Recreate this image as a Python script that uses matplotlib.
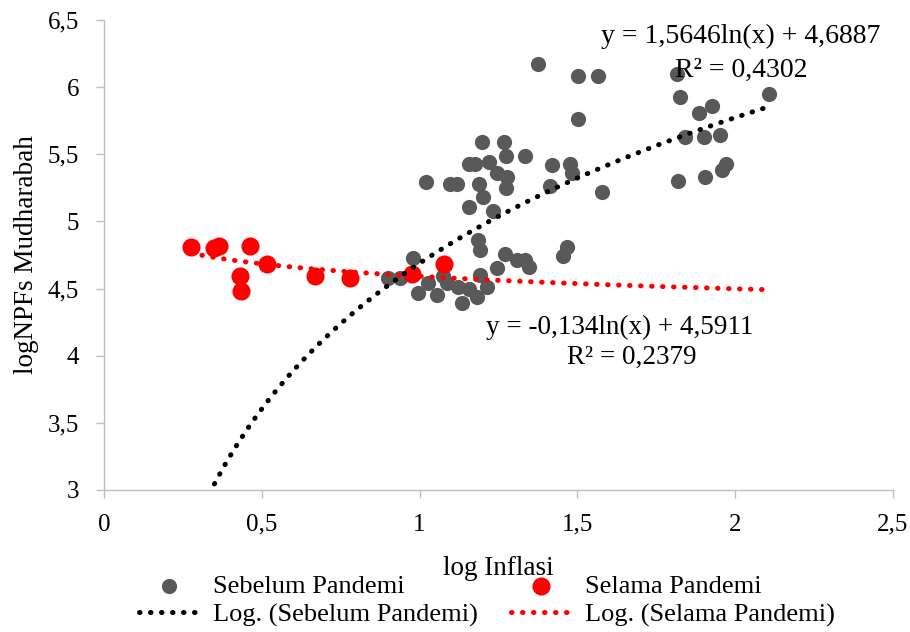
import numpy as np
import matplotlib.pyplot as plt
from matplotlib.ticker import FuncFormatter

plt.rcParams['font.family'] = ['Liberation Serif', 'DejaVu Serif']

# log inflation vs log NPF mudharabah, before the pandemic
sebelum_x = [1.375, 1.502, 1.564, 1.502, 1.197, 1.267, 1.274, 1.335, 1.155, 1.176,
             1.221, 1.244, 1.276, 1.274, 1.418, 1.477, 1.482, 1.020, 1.096, 1.117,
             1.189, 1.202, 1.413, 1.577, 1.158, 1.232, 1.186, 1.191, 1.466, 1.455,
             1.271, 1.308, 1.334, 1.346, 1.244, 0.980, 0.901, 0.938, 1.028, 0.996,
             1.054, 1.086, 1.123, 1.155, 1.191, 1.181, 1.133, 1.213, 1.075,
             1.817, 1.825, 2.108, 1.886, 1.925, 1.841, 1.901, 1.952, 1.971, 1.957,
             1.904, 1.820]
sebelum_y = [6.17, 6.08, 6.08, 5.76, 5.59, 5.59, 5.49, 5.49, 5.43, 5.43,
             5.445, 5.36, 5.33, 5.25, 5.42, 5.43, 5.36, 5.29, 5.28, 5.28,
             5.28, 5.18, 5.26, 5.22, 5.11, 5.08, 4.86, 4.79, 4.81, 4.74,
             4.76, 4.71, 4.71, 4.66, 4.65, 4.725, 4.58, 4.58, 4.54, 4.465,
             4.45, 4.54, 4.51, 4.50, 4.60, 4.44, 4.39, 4.51, 4.59,
             6.10, 5.93, 5.95, 5.81, 5.86, 5.63, 5.63, 5.64, 5.43, 5.38,
             5.33, 5.30]

# during the pandemic
selama_x = [0.276, 0.349, 0.364, 0.463, 0.431, 0.434, 0.516, 0.669, 0.779, 0.976, 1.077]
selama_y = [4.81, 4.80, 4.82, 4.82, 4.59, 4.48, 4.68, 4.59, 4.58, 4.61, 4.68]

# logarithmic trendline coefficients  y = a ln(x) + b, and R²
fit_sebelum = (1.5646, 4.6887, 0.4302)
fit_selama = (-0.134, 4.5911, 0.2379)

gray = '#595959'
red = '#FF0000'
axis_gray = '#BFBFBF'

fig = plt.figure(figsize=(9.1, 6.32), dpi=100)
ax = fig.add_axes([0.1143, 0.2247, 0.867, 0.7437])

sc1 = ax.scatter(sebelum_x, sebelum_y, s=120, color=gray, linewidths=0, zorder=2,
                 label='Sebelum Pandemi')
sc2 = ax.scatter(selama_x, selama_y, s=170, color=red, linewidths=0, zorder=3,
                 label='Selama Pandemi')

all_x = sebelum_x + selama_x
xs = np.linspace(min(all_x), max(all_x), 300)
dots = dict(linestyle=(0, (0.1, 2.1)), linewidth=3.6, dash_capstyle='round', zorder=4)
l1, = ax.plot(xs, fit_sebelum[0] * np.log(xs) + fit_sebelum[1], color='black',
              label='Log. (Sebelum Pandemi)', **dots)
l2, = ax.plot(xs, fit_selama[0] * np.log(xs) + fit_selama[1], color=red,
              label='Log. (Selama Pandemi)', **dots)

ax.set_xlim(0, 2.5)
ax.set_ylim(3, 6.5)
ax.set_xticks(np.arange(0, 2.51, 0.5))
ax.set_yticks(np.arange(3, 6.51, 0.5))
comma = FuncFormatter(lambda v, p: f'{v:g}'.replace('.', ','))
ax.xaxis.set_major_formatter(comma)
ax.yaxis.set_major_formatter(comma)
ax.tick_params(labelsize=18, color=axis_gray, length=6, width=1)
ax.tick_params(axis='y', pad=12)
ax.tick_params(axis='x', pad=11)

for side in ['top', 'right']:
    ax.spines[side].set_visible(False)
for side in ['left', 'bottom']:
    ax.spines[side].set_color(axis_gray)
    ax.spines[side].set_linewidth(1)

ax.set_xlabel('log Inflasi', fontsize=19.5, labelpad=15)
ax.set_ylabel('logNPFs Mudharabah', fontsize=19.5, labelpad=6)


def eq_text(fit):
    a, b, r2 = fit
    return f'y = {a:g}ln(x) + {b:g}'.replace('.', ','), f'R² = {r2:.4f}'.replace('.', ',')


eq1, r1 = eq_text(fit_sebelum)
eq2, r2 = eq_text(fit_selama)
ax.text(2.018, 6.375, eq1, fontsize=20, ha='center', va='center')
ax.text(2.018, 6.125, r1, fontsize=20, ha='center', va='center')
ax.text(1.635, 4.214, eq2, fontsize=19.5, ha='center', va='center')
ax.text(1.673, 3.99, r2, fontsize=19.5, ha='center', va='center')

handles = [sc1, l1, sc2, l2]
fig.legend(handles=handles, labels=[h.get_label() for h in handles], ncol=2,
           loc='upper center', bbox_to_anchor=(0.535, 1 - 561 / 632), frameon=False,
           fontsize=19, handlelength=2.3, handletextpad=0.5, columnspacing=1.25,
           labelspacing=0.2, borderpad=0, scatterpoints=1)

fig.savefig('out.png', dpi=100)
